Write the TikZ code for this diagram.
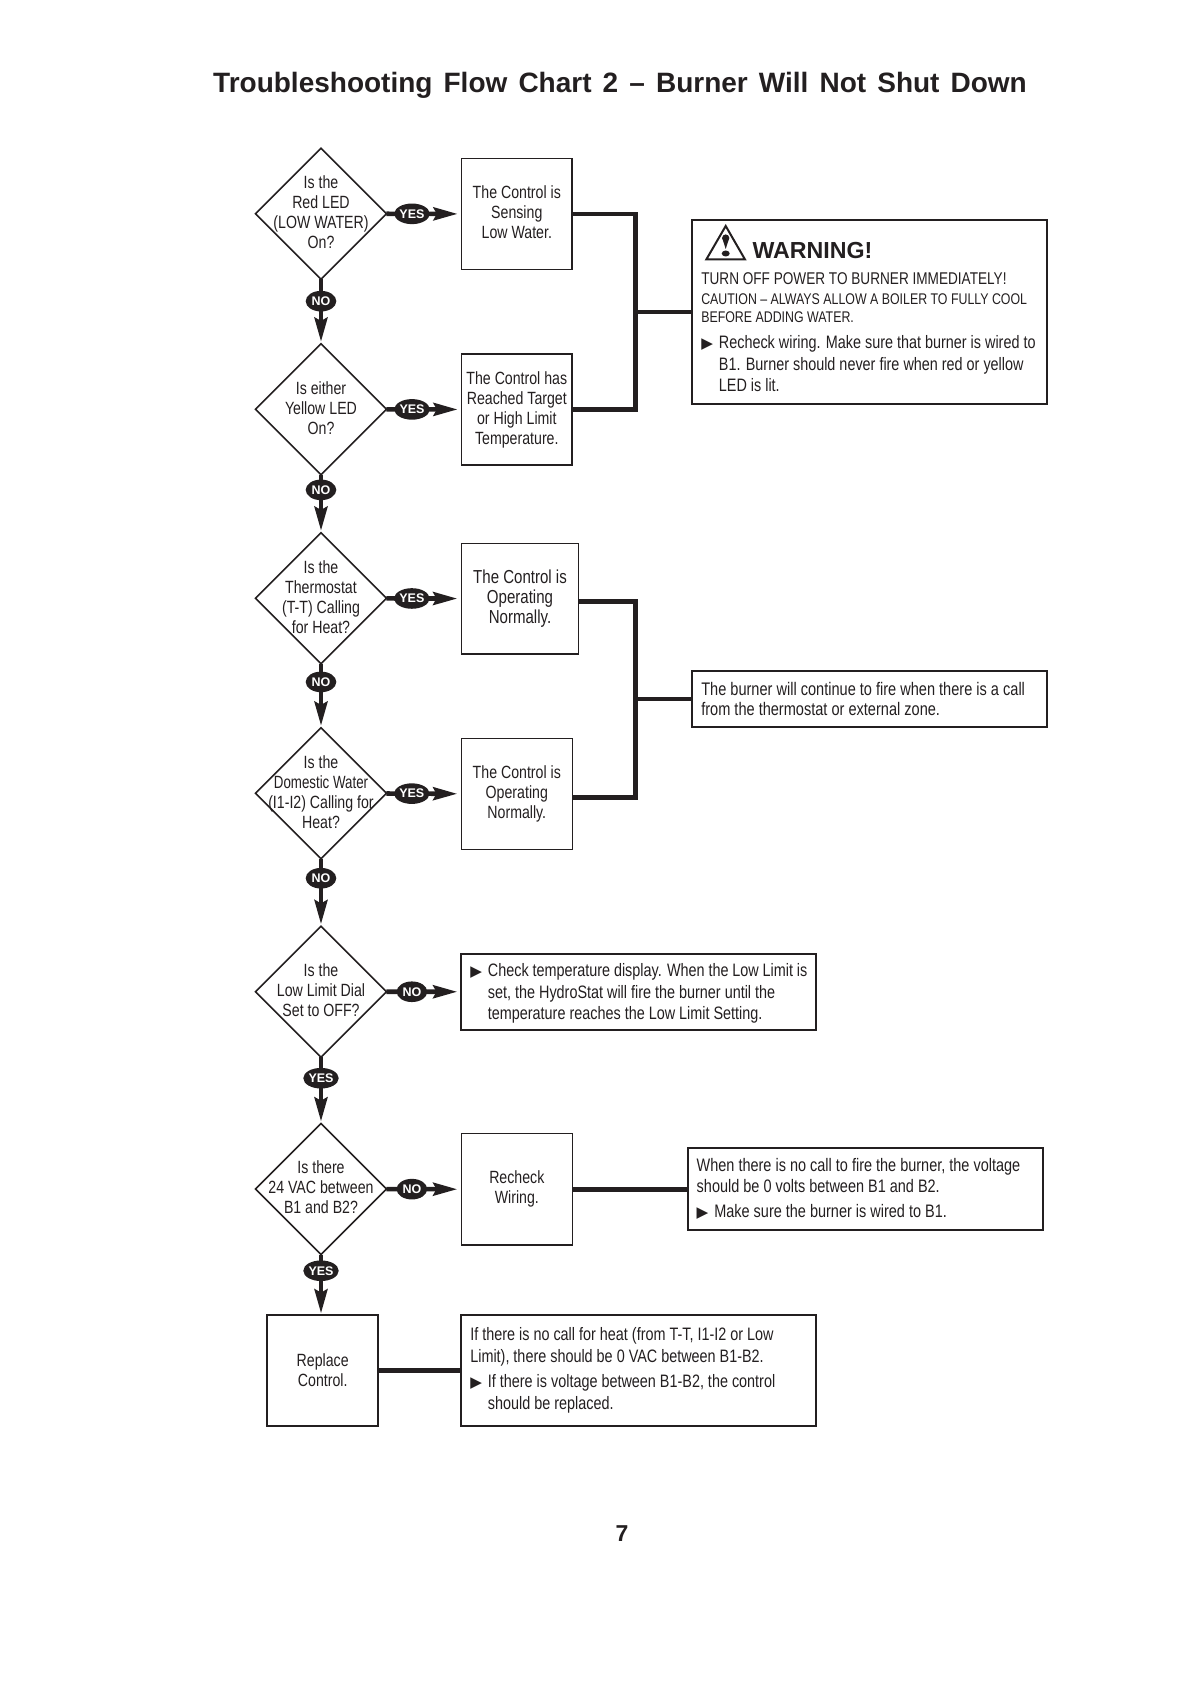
\documentclass[tikz,border=0pt]{standalone}
\usepackage{fontspec}
\usepackage{xcolor}
\setmainfont{Liberation Sans}[FakeStretch=0.8]
\newfontfamily\headfont{Liberation Sans}
\newfontfamily\symfont{DejaVu Sans}
\usetikzlibrary{shapes.geometric,arrows.meta}
\definecolor{ink}{HTML}{231F20}
\newcommand{\bul}{\makebox[8.8pt][l]{\symfont\fontsize{7.6}{7.6}\selectfont ▶}}
\newcommand{\ind}{\hspace*{8.8pt}}
\tikzset{
  txt/.style={text=ink,font=\fontsize{8.85}{10}\selectfont,align=center,inner sep=0pt},
  decide/.style={diamond,draw=ink,line width=.8pt,aspect=1,inner sep=0pt,outer sep=0pt,
    minimum width=65.5pt,minimum height=65.5pt},
  actbox/.style={rectangle,draw=ink,line width=.65pt,outer sep=0pt,txt},
  notebox/.style={rectangle,draw=ink,line width=.9pt,outer sep=0pt,text=ink,
    font=\fontsize{9}{10.9}\selectfont,align=flush left,inner xsep=4.5pt,inner ysep=0pt,text width=168.5pt},
  badge/.style={ellipse,fill=ink,text=white,inner sep=0pt,outer sep=0pt,
    font=\headfont\bfseries\fontsize{6.25}{7}\selectfont,minimum width=15.3pt,minimum height=10.3pt},
  flow/.style={draw=ink,line width=2.3pt,shorten >=2pt,
    -{Stealth[length=12pt,width=6.4pt,inset=1.6pt]}},
  flowdown/.style={flow,shorten >=1pt},
  link/.style={draw=ink,line width=2.35pt}
}
\begin{document}
\begin{tikzpicture}[x=.5pt,y=-.5pt]
\useasboundingbox (0,0) rectangle (1191,1684);
\node (title) at (620, 85) [text=ink,inner sep=0pt,font=\headfont\bfseries\fontsize{14}{16}\selectfont] {\spaceskip=5.55pt Troubleshooting Flow Chart 2 – Burner Will Not Shut Down};

\node (d1) at (321, 213.7) [decide] {};
\node (d2) at (321, 409.3) [decide] {};
\node (d3) at (321, 598.3) [decide] {};
\node (d4) at (321, 793.3) [decide] {};
\node (d5) at (321, 991.7) [decide] {};
\node (d6) at (321, 1189)  [decide] {};
\node (d1t) at (321, 212.5) [txt] {Is the\\Red LED\\(LOW WATER)\\On?};
\node (d2t) at (321, 408.3) [txt] {Is either\\Yellow LED\\On?};
\node (d3t) at (321, 597.3) [txt] {Is the\\Thermostat\\(T-T) Calling\\for Heat?};
\node (d4t) at (321, 792.3) [txt] {Is the\\\scalebox{.94}[1]{Domestic Water}\\(I1-I2) Calling for\\Heat?};
\node (d5t) at (321, 990.2) [txt] {Is the\\Low Limit Dial\\Set to OFF?};
\node (d6t) at (321, 1187.5) [txt] {Is there\\24 VAC between\\B1 and B2?};

\node (b1) at (516.8, 214)    [actbox,minimum width=55.15pt,minimum height=55.3pt,text depth=2pt] {The Control is\\Sensing\\Low Water.};
\node (b2) at (516.8, 409.5)  [actbox,minimum width=55.15pt,minimum height=55.5pt] {The Control has\\Reached Target\\or High Limit\\Temperature.};
\node (b3) at (520, 598.7)    [actbox,minimum width=58.7pt,minimum height=55.35pt,font=\fontsize{9.4}{10}\selectfont] {The Control is\\Operating\\Normally.};
\node (b4) at (516.8, 794)    [actbox,minimum width=55.5pt,minimum height=55.3pt] {The Control is\\Operating\\Normally.};
\node (b5) at (638.8, 991.85) [notebox,minimum height=38.15pt] {\rule{0pt}{8.2pt}\bul Check temperature display. When the Low Limit is\\\ind set, the HydroStat will fire the burner until the\\\ind temperature reaches the Low Limit Setting.};
\node (b6) at (516.8, 1189.3) [actbox,minimum width=55.5pt,minimum height=55.65pt] {Recheck\\Wiring.};
\node (b7) at (322.7, 1370.3) [actbox,line width=.9pt,minimum width=55.6pt,minimum height=55.7pt] {Replace\\Control.};
\node (b8) at (638.8, 1370.3) [notebox,minimum height=55.7pt] {If there is no call for heat (from T-T, I1-I2 or Low\\Limit), there should be 0 VAC between B1-B2.\\[2pt]\bul If there is voltage between B1-B2, the control\\\ind should be replaced.};

\node (warn) at (869.8, 312) [notebox,minimum height=92pt] {\rule{0pt}{13.3pt}\hspace*{25.6pt}{\headfont\bfseries\fontsize{11.6}{14}\selectfont WARNING!\par}
\vspace{2.1pt}{\fontsize{8.5}{10.7}\selectfont TURN OFF POWER TO BURNER IMMEDIATELY!\par}
\vspace{1.2pt}{\fontsize{7.73}{9}\selectfont CAUTION -- ALWAYS ALLOW A BOILER TO FULLY COOL\\BEFORE ADDING WATER.\par}
\vspace{2pt}\bul Recheck wiring. Make sure that burner is wired to\\\ind B1. Burner should never fire when red or yellow\\\ind LED is lit.};
\node (n3) at (869.8, 698.85) [notebox,minimum height=28.15pt,font=\fontsize{9.1}{10.2}\selectfont] {The burner will continue to fire when there is a call\\from the thermostat or external zone.};
\node (w6) at (865.5, 1188.85) [notebox,minimum height=41.15pt,text width=168.8pt,font=\fontsize{9.05}{10.4}\selectfont] {When there is no call to fire the burner, the voltage\\should be 0 volts between B1 and B2.\\[2pt]\bul Make sure the burner is wired to B1.};

\coordinate (iconA) at (725.7, 226);
\coordinate (iconB) at (745, 259.5);
\coordinate (iconC) at (706.3, 259.5);
\draw[draw=ink,line width=1pt,line join=miter] (iconA) -- (iconB) -- (iconC) -- cycle;
\fill[ink] (725.7, 238) circle (1.8pt);
\fill[ink] (722.2, 238) -- (729.2, 238) -- (725.7, 249) -- cycle;
\fill[ink] (725.7, 253.5) ellipse (2pt and 1.5pt);

\path (d1) edge[flowdown] node (n1) [badge,pos=.34]  {NO}  (d2);
\path (d2) edge[flowdown] node (n2) [badge,pos=.26]  {NO}  (d3);
\path (d3) edge[flowdown] node (n3b) [badge,pos=.283] {NO}  (d4);
\path (d4) edge[flowdown] node (n4) [badge,pos=.288] {NO}  (d5);
\path (d5) edge[flowdown] node (y5) [badge,pos=.317] {YES} (d6);
\path (d6) edge[flow,shorten >=.6pt] node (y6) [badge,pos=.27] {YES} (d6 |- b7.north);

\path (d1) edge[flow] node (y1) [badge,pos=.34] {YES} (b1);
\path (d2) edge[flow] node (y2) [badge,pos=.34] {YES} (b2);
\path (d3) edge[flow] node (y3) [badge,pos=.34] {YES} (b3);
\path (d4) edge[flow] node (y4) [badge,pos=.34] {YES} (b4);
\path (d5) edge[flow] node (n5) [badge,pos=.34] {NO}  (b5);
\path (d6) edge[flow] node (n6) [badge,pos=.34] {NO}  (b6);

\coordinate (bus1) at (635.3, 312);
\coordinate (bus2) at (635.3, 698.85);
\draw[link] (b1.east) -| (bus1) |- (b2.east);
\draw[link] (bus1) -- (warn.west);
\draw[link] ([yshift=-1.3pt]b3.east) -| (bus2) |- ([yshift=-1.6pt]b4.east);
\draw[link] (bus2) -- (n3.west);
\draw[link] (b6.east) -- (b6.east -| w6.west);
\draw[link] (b7) -- (b8);

\node (pagenum) at (622, 1534) [text=ink,inner sep=0pt,font=\headfont\bfseries\fontsize{11.5}{13}\selectfont] {7};
\end{tikzpicture}
\end{document}
